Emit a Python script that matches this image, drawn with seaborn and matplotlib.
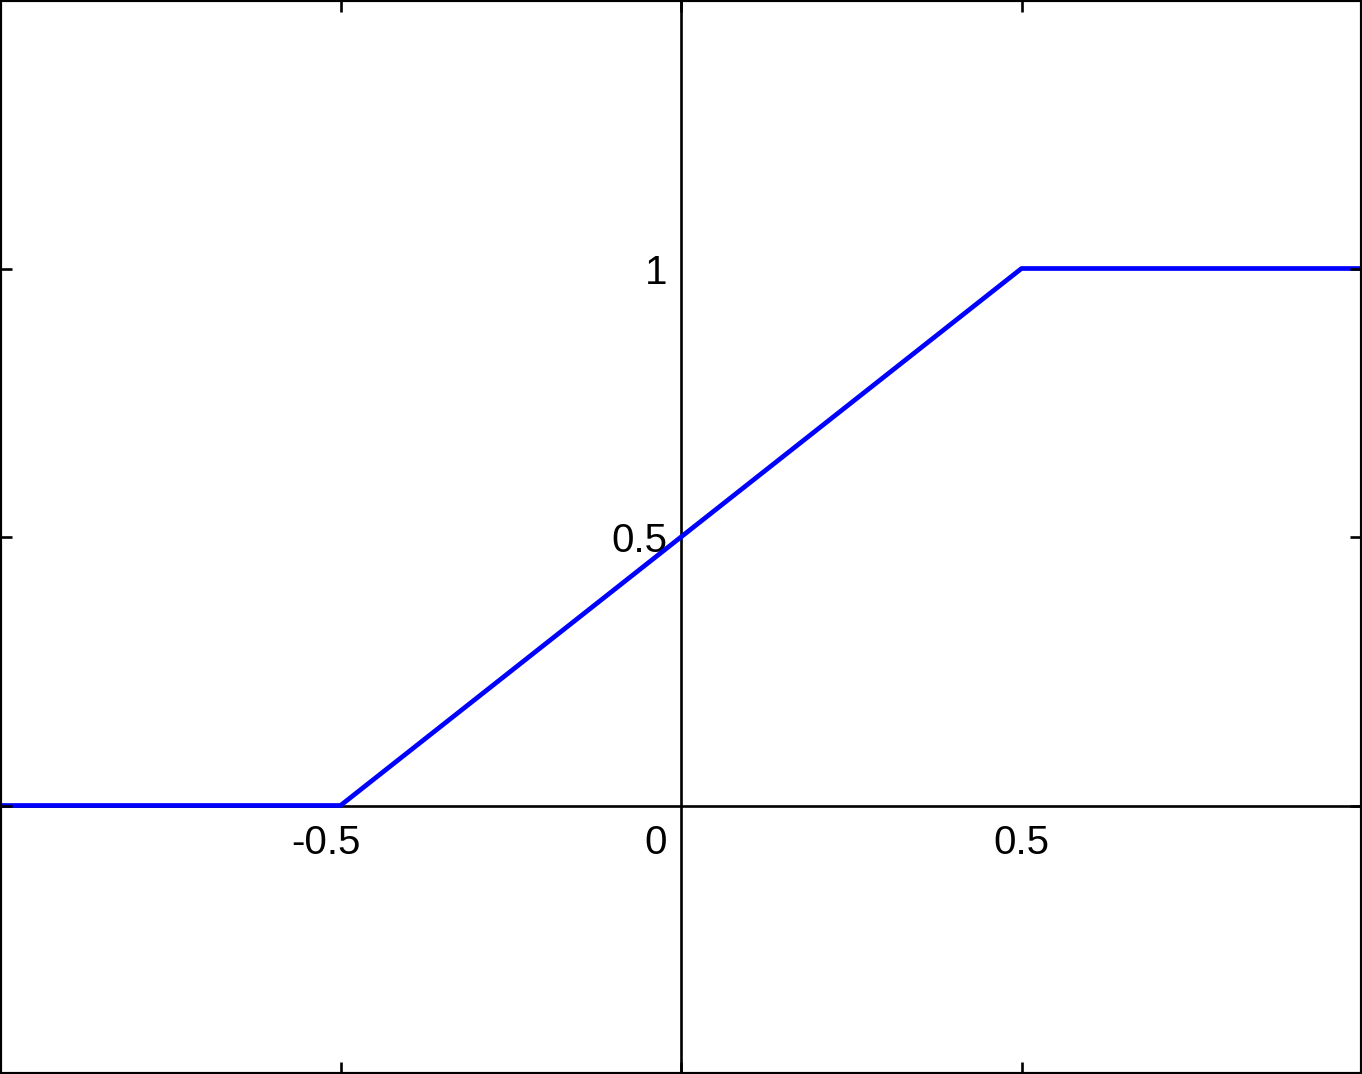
import matplotlib
matplotlib.use("Agg")
import matplotlib.pyplot as plt
import matplotlib.transforms as mtransforms
import seaborn as sns
import pandas as pd

# Data
x_vals = [-1.0, -0.5, 0.5, 1.0]
y_vals = [0.0, 0.0, 1.0, 1.0]
x_ticks = [-0.5, 0, 0.5]
x_tick_labels = ["-0.5", "0", "0.5"]
y_ticks = [0.5, 1]
y_tick_labels = ["0.5", "1"]

sns.set_style("white")
plt.rcParams['font.family'] = ['Liberation Sans', 'DejaVu Sans']

fig = plt.figure(figsize=(13.62, 10.74), dpi=100)
ax = fig.add_axes([0, 0, 1, 1])
df = pd.DataFrame({"x": x_vals, "y": y_vals})
sns.lineplot(data=df, x="x", y="y", ax=ax, color="#0000ff", linewidth=3.4, zorder=5)
ax.set_xlim(-1, 1)
ax.set_ylim(-0.5, 1.5)
ax.set_xlabel("")
ax.set_ylabel("")

# Center axes
for s in ["top", "right"]:
    ax.spines[s].set_visible(False)
ax.spines["left"].set_position(("data", 0))
ax.spines["bottom"].set_position(("data", 0))
for s in ["left", "bottom"]:
    ax.spines[s].set_linewidth(1.9)
    ax.spines[s].set_color("black")
ax.set_xticks(x_ticks)
ax.set_xticklabels(x_tick_labels)
ax.set_yticks(y_ticks)
ax.set_yticklabels(y_tick_labels)
ax.tick_params(axis="x", direction="in", length=8.6, width=1.9, labelsize=29, pad=13, colors="black")
ax.tick_params(axis="y", direction="in", length=8.6, width=1.9, labelsize=29, pad=10, colors="black")
# shift labels as in reference
shifts = {"0": -25, "-0.5": -15}
for lbl in ax.get_xticklabels():
    t = lbl.get_text()
    if t in shifts:
        off = mtransforms.ScaledTranslation(shifts[t] / 100, 0, fig.dpi_scale_trans)
        lbl.set_transform(lbl.get_transform() + off)

# Box frame with inward ticks
ax2 = fig.add_axes([0, 0, 1, 1], facecolor="none")
ax2.set_xlim(-1, 1)
ax2.set_ylim(-0.5, 1.5)
for s in ax2.spines.values():
    s.set_visible(True)
    s.set_linewidth(3)
    s.set_color("black")
ax2.set_xticks(x_ticks)
ax2.set_yticks([0] + y_ticks)
ax2.tick_params(axis="both", direction="in", length=8.6, width=1.9,
                top=True, bottom=True, left=True, right=True,
                labelbottom=False, labelleft=False, colors="black")

fig.savefig("out.png", dpi=100)
